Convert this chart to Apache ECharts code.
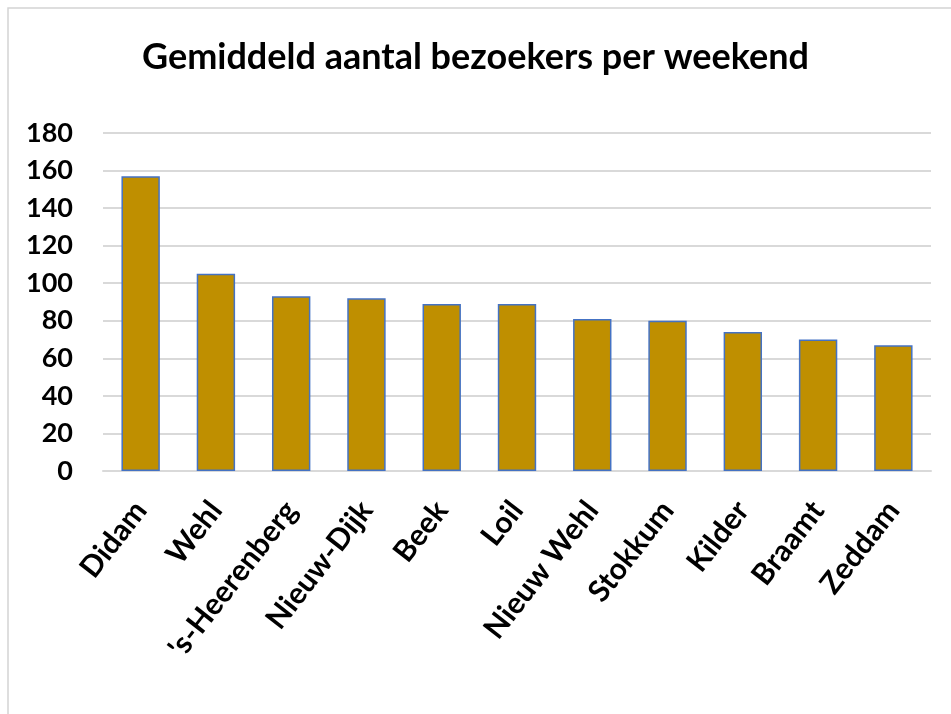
<!DOCTYPE html>
<html>
<head>
<meta charset="utf-8">
<script src="https://cdn.jsdelivr.net/npm/echarts@6/dist/echarts.min.js"></script>
<style>
  html, body { margin: 0; padding: 0; background: #fff; }
  #chart { width: 951px; height: 714px; }
</style>
</head>
<body>
<div id="chart"></div>
<script>
const titleText = "Gemiddeld aantal bezoekers per weekend"
const places = ["Didam", "Wehl", "'s-Heerenberg", "Nieuw-Dijk", "Beek", "Loil", "Nieuw Wehl", "Stokkum", "Kilder", "Braamt", "Zeddam"]
const visitors = [157, 105, 93, 92, 89, 89, 81, 80, 74, 70, 67]
const yTicks = [0, 20, 40, 60, 80, 100, 120, 140, 160, 180]

const font = "Lato, 'Open Sans', sans-serif"
const chart = echarts.init(document.getElementById("chart"), null, { renderer: "canvas" })

const option = {
  animation: false,
  backgroundColor: "#ffffff",
  title: {
    text: titleText,
    left: "center",
    top: 34,
    textStyle: { fontFamily: font, fontWeight: "bold", fontSize: 36, color: "#000" },
  },
  grid: { left: 103, right: 20, top: 133, bottom: 243, containLabel: false },
  xAxis: {
    type: "category",
    data: places,
    axisLine: { lineStyle: { color: "#d9d9d9", width: 2 } },
    axisTick: { show: false },
    axisLabel: {
      rotate: 52,
      interval: 0,
      margin: 34,
      color: "#000",
      fontFamily: font,
      fontWeight: "bold",
      fontSize: 30,
    },
  },
  yAxis: {
    type: "value",
    min: yTicks[0],
    max: yTicks[yTicks.length - 1],
    interval: 20,
    axisLine: { show: false },
    axisTick: { show: false },
    axisLabel: { color: "#000", fontFamily: font, fontWeight: "bold", fontSize: 27, margin: 30 },
    splitLine: { lineStyle: { color: "#d9d9d9", width: 2 } },
  },
  series: [
    {
      type: "bar",
      data: visitors,
      barWidth: "51%",
      itemStyle: { color: "#bf8f00", borderColor: "#4472c4", borderWidth: 1.5 },
    },
  ],
  graphic: [
    {
      type: "polyline",
      shape: { points: [[8, 714], [8, 8], [951, 8]] },
      style: { stroke: "#d4d4d4", lineWidth: 1.5, fill: null },
      silent: true,
    },
  ],
}

chart.setOption(option)
</script>
</body>
</html>
